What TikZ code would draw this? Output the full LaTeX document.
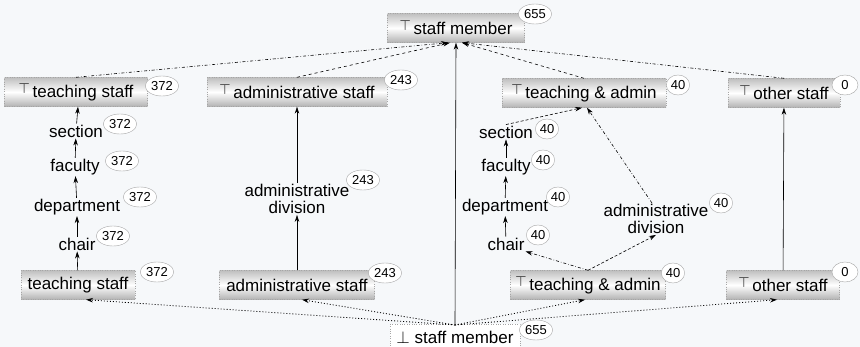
\documentclass[tikz,border=0pt]{standalone}
\usepackage{fontspec}
\setmainfont{Liberation Sans}
\usetikzlibrary{arrows.meta, shapes.geometric}

\definecolor{paper}{RGB}{246,248,250}
\tikzset{
  box/.style={draw=gray!70, dotted, minimum height=29pt, inner sep=2pt,
    top color=gray!50, bottom color=gray!60, middle color=white, font=\fontsize{17}{19}\selectfont},
  botbox/.style={draw=gray!70, dotted, minimum height=26pt, inner sep=2pt, fill=white,
    font=\fontsize{17}{19}\selectfont},
  lbl/.style={inner sep=1pt, align=center, font=\fontsize{17}{17}\selectfont},
  cnt/.style={ellipse, draw=gray!70, fill=white, inner sep=1pt, minimum height=20pt,
    font=\fontsize{13}{13}\selectfont},
  up/.style={-{Stealth[length=7pt,width=4.5pt]}, line width=0.6pt},
  dots/.style={dash pattern=on 1pt off 2pt, line width=0.8pt}
}
\newcommand{\tp}{\raisebox{4pt}{\fontsize{15}{15}\selectfont$\top$}\,}

\begin{document}
\begin{tikzpicture}[x=1pt, y=-1pt]
\fill[paper] (0,0) rectangle (860,347);
\useasboundingbox (0,0) rectangle (860,347);

% top and bottom of the lattice
\node[box, minimum width=137pt] (top) at (456,28) {\tp staff member};
\node[botbox, minimum width=130pt, anchor=north] (bot) at (455,324) {$\bot$ staff member};

% upper row
\node[box, minimum width=143pt] (tTeach) at (76,92) {\tp teaching staff};
\node[box, minimum width=180pt] (tAdmin) at (297,92) {\tp administrative staff};
\node[box, minimum width=164pt] (tBoth) at (584,93) {\tp teaching \& admin};
\node[box, minimum width=112pt] (tOther) at (784,93) {\tp other staff};

% lower row
\node[box, minimum width=114pt] (bTeach) at (78,285) {teaching staff};
\node[box, minimum width=155pt] (bAdmin) at (297,285) {administrative staff};
\node[box, minimum width=155pt] (bBoth) at (588,285) {\tp teaching \& admin};
\node[box, minimum width=113pt] (bOther) at (783,285) {\tp other staff};

% teaching chain
\node[lbl] (sectA) at (76,131) {section};
\node[lbl] (facA) at (75,167) {faculty};
\node[lbl] (depA) at (77,207) {department};
\node[lbl] (chairA) at (77,244) {chair};
% admin chain
\node[lbl] (divA) at (297,199) {administrative\\division};
% mixed chain
\node[lbl] (sectB) at (506,132) {section};
\node[lbl] (facB) at (506,167) {faculty};
\node[lbl] (depB) at (505,207) {department};
\node[lbl] (chairB) at (506,244) {chair};
\node[lbl] (divB) at (656,219) {administrative\\division};

% counts
\node[cnt] (c1) at (535,14) {655};
\node[cnt] (c2) at (162,86) {372};
\node[cnt] (c3) at (401,80) {243};
\node[cnt] (c4) at (678,85) {40};
\node[cnt, minimum width=26pt] (c5) at (845,85) {0};
\node[cnt] (c6) at (120,124) {372};
\node[cnt] (c7) at (122,161) {372};
\node[cnt] (c8) at (140,197) {372};
\node[cnt] (c9) at (113,236) {372};
\node[cnt] (c10) at (157,272) {372};
\node[cnt] (c11) at (363,180) {243};
\node[cnt] (c12) at (385,273) {243};
\node[cnt] (c13) at (547,129) {40};
\node[cnt] (c14) at (543,160) {40};
\node[cnt] (c15) at (558,197) {40};
\node[cnt] (c16) at (538,235) {40};
\node[cnt] (c17) at (721,203) {40};
\node[cnt] (c18) at (673,273) {40};
\node[cnt, minimum width=26pt] (c19) at (845,272) {0};
\node[cnt] (c20) at (536,330) {655};

% edges into the top
\draw[up, dash dot] (tTeach.north) -- ([xshift=-8pt]top.south);
\draw[up, dashed] (tAdmin.north) -- ([xshift=-6pt]top.south);
\draw[up, dashed] (tBoth.north) -- ([xshift=6pt]top.south);
\draw[up, dash dot] (tOther.north) -- ([xshift=6pt]top.south);
\draw[up] (bot.north) -- (top.south);

% left chain
\draw[up] (sectA) -- ([xshift=2pt]tTeach.south);
\draw[up] (facA) -- (sectA);
\draw[up] (depA) -- (facA);
\draw[up] (chairA) -- (depA);
\draw[up] (bTeach) -- (chairA);

% middle chain
\draw[up] (divA) -- (tAdmin);
\draw[up] (bAdmin) -- (divA);

% right chains
\draw[up, densely dashed] (sectB.north) -- ([xshift=-2pt]tBoth.south);
\draw[up, dash dot] ([xshift=-4pt]divB.north) -- ([xshift=3pt]tBoth.south);
\draw[up] (facB) -- (sectB);
\draw[up] (depB) -- (facB);
\draw[up] (chairB) -- (depB);
\draw[up, dash dot] (bBoth.north) -- (chairB.south east);
\draw[up, densely dashed] (bBoth.north) -- (divB.south);
\draw[up] (bOther) -- (tOther);

% edges out of the bottom
\draw[up, dots] ([yshift=-1pt]bot.north) -- ([xshift=8pt]bTeach.south);
\draw[up, dots] ([yshift=-1pt]bot.north) -- ([xshift=5pt]bAdmin.south);
\draw[up, dots] ([yshift=-1pt]bot.north) -- ([xshift=-3pt]bBoth.south);
\draw[up, dots] ([yshift=-1pt]bot.north) -- ([xshift=-6pt]bOther.south);
\end{tikzpicture}
\end{document}
